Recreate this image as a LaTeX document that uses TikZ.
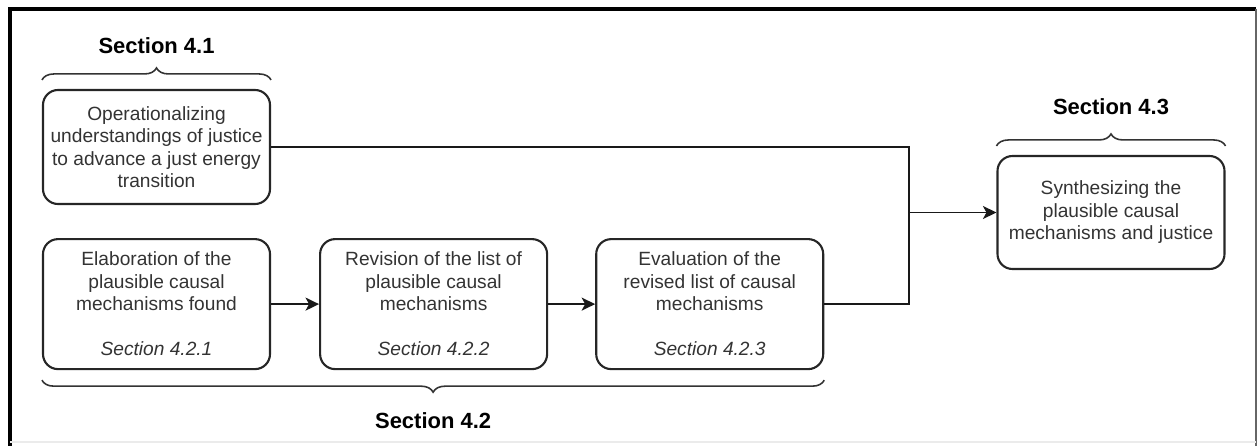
\documentclass[tikz,border=0pt]{standalone}
\usepackage{fontspec}
\setmainfont{Liberation Sans}
\usetikzlibrary{arrows.meta, positioning, decorations.pathreplacing}

\begin{document}
\begin{tikzpicture}[
    box/.style={rectangle, draw=black!85, line width=1.2pt, rounded corners=0.3cm, minimum width=4.54cm, align=center, text=black!80, font=\fontsize{10.9}{12.8}\selectfont},
    sect/.style={font=\fontsize{12.5}{14}\selectfont\bfseries, text=black},
    brace/.style={decorate, decoration={brace, amplitude=0.24cm}, draw=black!80, line width=0.9pt},
    link/.style={line width=1.1pt, draw=black!90},
    arrow/.style={link, -{Stealth[length=0.27cm, width=0.26cm, inset=0.07cm]}}
]
    \useasboundingbox (0,0) rectangle (25.14,-8.92);
    \draw[line width=2.2pt] (0.2,-8.92) -- (0.2,-0.18) -- (25.12,-0.18);
    \draw[black!60, line width=0.8pt] (25.12,-0.18) -- (25.12,-8.92);
    \draw[black!8, line width=0.6pt] (0.2,-8.84) -- (25.12,-8.84);

    \node[box, minimum height=2.28cm] (oper) at (3.13,-2.94) {Operationalizing\\ understandings of justice\\ to advance a just energy\\ transition};
    \node[box, minimum height=2.6cm, below=0.66cm of oper] (elab) {Elaboration of the\\ plausible causal\\ mechanisms found\\[12.8pt] \textit{Section 4.2.1}};
    \node[box, minimum height=2.6cm, right=0.96cm of elab] (revis) {Revision of the list of\\ plausible causal\\ mechanisms\\[12.8pt] \textit{Section 4.2.2}};
    \node[box, minimum height=2.6cm, right=0.94cm of revis] (evalu) {Evaluation of the\\ revised list of causal\\ mechanisms\\[12.8pt] \textit{Section 4.2.3}};
    \node[box, minimum height=2.26cm] (synth) at (22.22,-4.25) {Synthesizing the\\ plausible causal\\ mechanisms and justice};
    \coordinate (join) at (18.18,-4.25);

    \draw[brace] ([yshift=0.18cm]oper.north west) -- ([yshift=0.18cm]oper.north east) node[sect, midway, yshift=0.68cm] {Section 4.1};
    \draw[brace] ([yshift=-0.2cm]evalu.south east) -- ([yshift=-0.2cm]elab.south west) node[sect, midway, yshift=-0.8cm] {Section 4.2};
    \draw[brace] ([yshift=0.18cm]synth.north west) -- ([yshift=0.18cm]synth.north east) node[sect, midway, yshift=0.78cm] {Section 4.3};

    \draw[arrow] (elab) -- (revis);
    \draw[arrow] (revis) -- (evalu);
    \draw[link] (oper.east) -| (join);
    \draw[link] (evalu.east) -| (join);
    \draw[arrow] (join) -- (synth.west);
\end{tikzpicture}
\end{document}
